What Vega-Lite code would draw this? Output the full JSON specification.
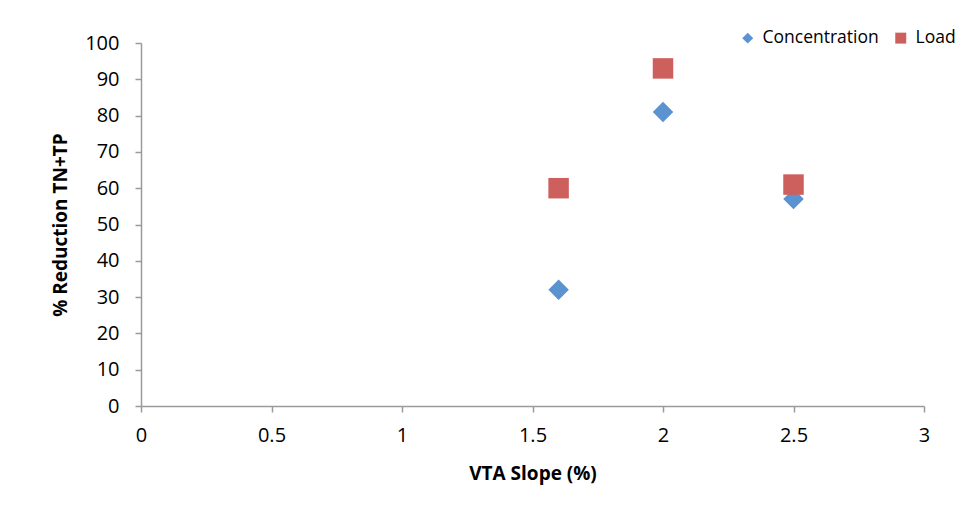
{
  "$schema": "https://vega.github.io/schema/vega-lite/v6.json",
  "width": 783,
  "height": 363,
  "autosize": "none",
  "padding": {"left": 141, "top": 43, "right": 43, "bottom": 116},
  "background": "white",
  "config": {
    "view": {"stroke": null},
    "font": "Open Sans"
  },
  "data": {
    "values": [
      {"slope": 1.6, "value": 32, "series": "Concentration"},
      {"slope": 2.0, "value": 81, "series": "Concentration"},
      {"slope": 2.5, "value": 57, "series": "Concentration"},
      {"slope": 1.6, "value": 60, "series": "Load"},
      {"slope": 2.0, "value": 93, "series": "Load"},
      {"slope": 2.5, "value": 61, "series": "Load"}
    ]
  },
  "mark": {"type": "point", "filled": true, "opacity": 1, "size": 420},
  "encoding": {
    "x": {
      "field": "slope", "type": "quantitative",
      "scale": {"domain": [0, 3], "nice": false, "zero": false},
      "axis": {
        "values": [0, 0.5, 1, 1.5, 2, 2.5, 3],
        "format": "~g",
        "grid": false,
        "title": "VTA Slope (%)",
        "titleFont": "Open Sans", "titleFontSize": 19, "titleFontWeight": "bold", "titleColor": "black",
        "titlePadding": 19,
        "labelFontSize": 20, "labelColor": "black", "labelPadding": 13,
        "labelFlush": false,
        "domainColor": "#9a9a9a", "tickColor": "#9a9a9a", "tickSize": 6, "domainWidth": 1.5, "tickWidth": 1.5
      }
    },
    "y": {
      "field": "value", "type": "quantitative",
      "scale": {"domain": [0, 100], "nice": false},
      "axis": {
        "values": [0, 10, 20, 30, 40, 50, 60, 70, 80, 90, 100],
        "grid": false,
        "title": "% Reduction TN+TP",
        "titleFont": "Open Sans", "titleFontSize": 19, "titleFontWeight": "bold", "titleColor": "black",
        "titlePadding": 14,
        "labelFontSize": 20, "labelColor": "black", "labelPadding": 16,
        "labelFlush": false,
        "domainColor": "#9a9a9a", "tickColor": "#9a9a9a", "tickSize": 6, "domainWidth": 1.5, "tickWidth": 1.5
      }
    },
    "color": {
      "field": "series", "type": "nominal",
      "scale": {"domain": ["Concentration", "Load"], "range": ["#5a93cf", "#cd605c"]},
      "legend": {
        "title": null, "orient": "none", "legendX": 598, "legendY": -14,
        "direction": "horizontal",
        "labelFontSize": 17.5, "labelColor": "black", "labelFont": "Open Sans",
        "symbolSize": 120, "labelOffset": 6, "columnPadding": 13, "symbolStrokeWidth": 0
      }
    },
    "shape": {
      "field": "series", "type": "nominal",
      "scale": {"domain": ["Concentration", "Load"], "range": ["diamond", "square"]}
    }
  }
}
